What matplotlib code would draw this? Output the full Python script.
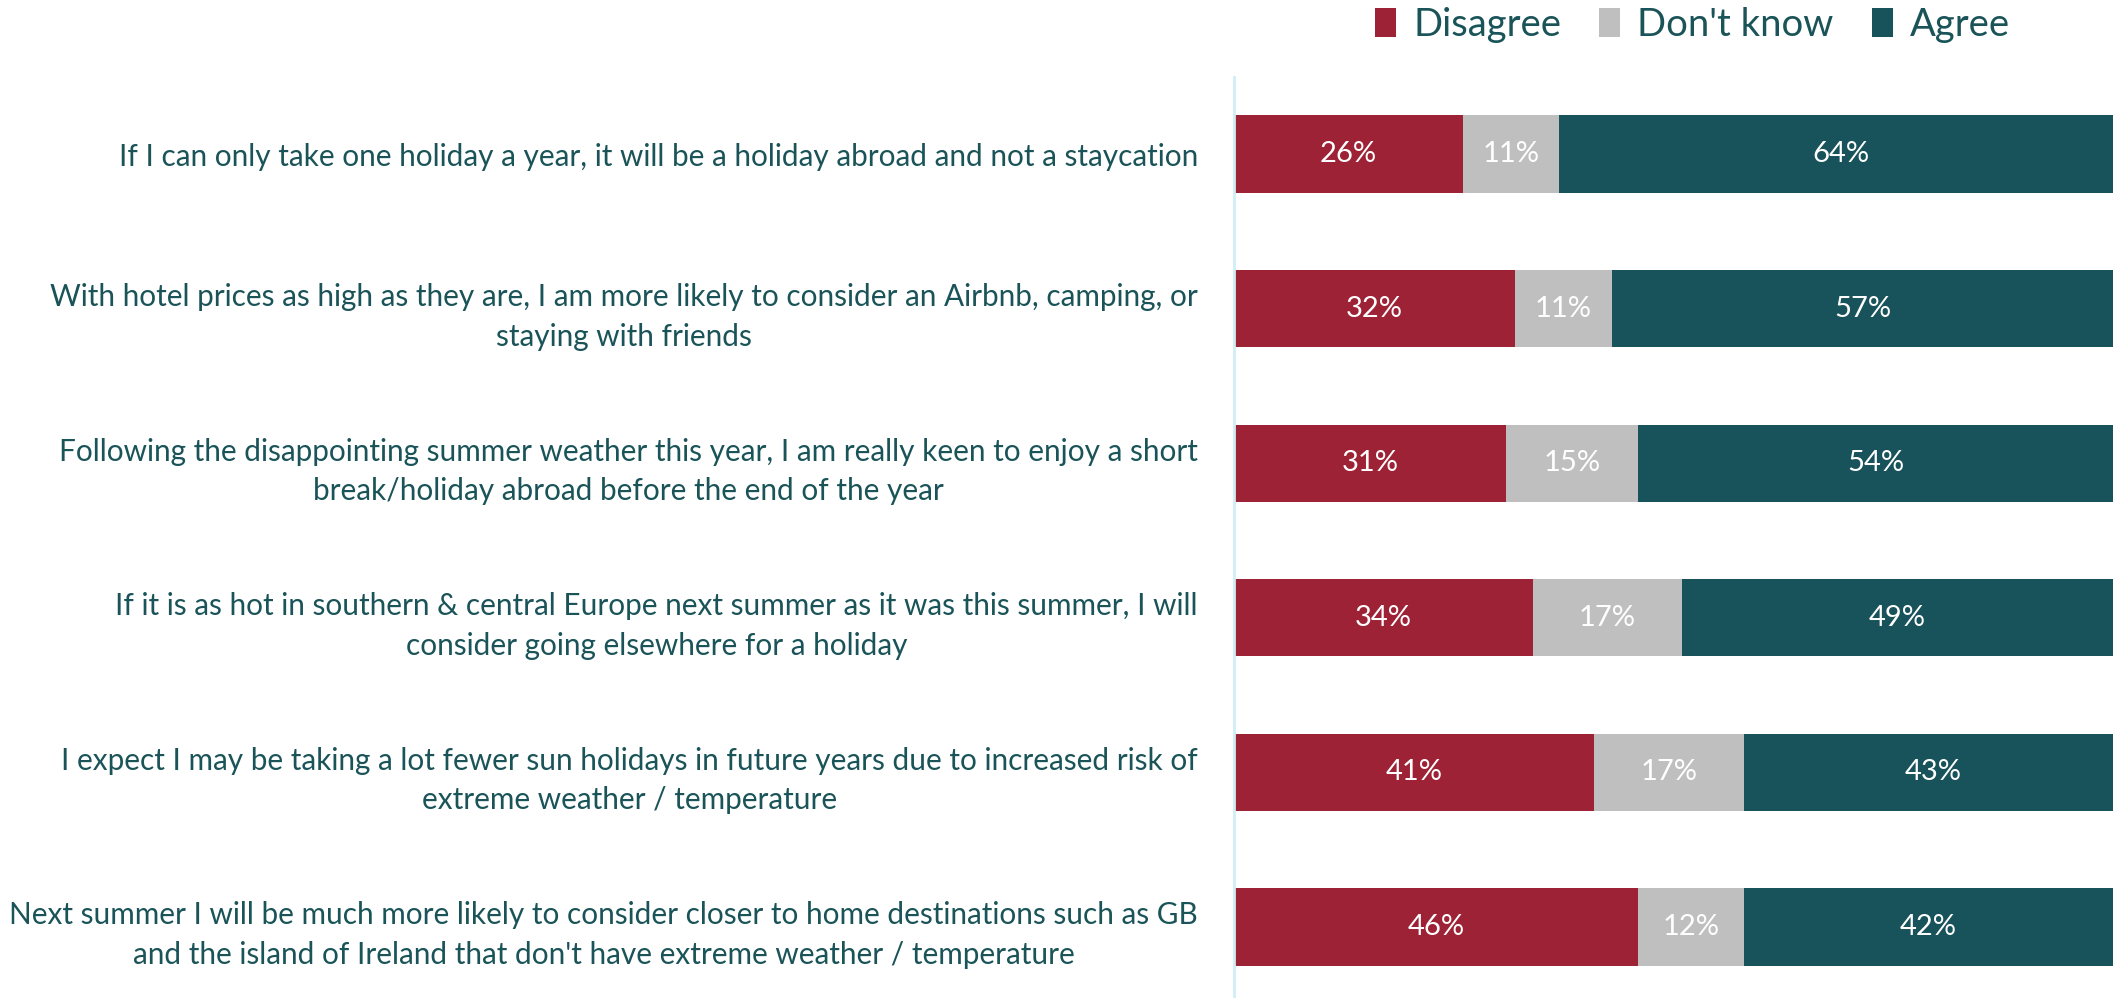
import matplotlib
matplotlib.use("Agg")
from matplotlib import pyplot as plt
from matplotlib.patches import Patch

statements = [
    "If I can only take one holiday a year, it will be a holiday abroad and not a staycation",
    "With hotel prices as high as they are, I am more likely to consider an Airbnb, camping, or\nstaying with friends",
    "Following the disappointing summer weather this year, I am really keen to enjoy a short\nbreak/holiday abroad before the end of the year",
    "If it is as hot in southern & central Europe next summer as it was this summer, I will\nconsider going elsewhere for a holiday",
    "I expect I may be taking a lot fewer sun holidays in future years due to increased risk of\nextreme weather / temperature",
    "Next summer I will be much more likely to consider closer to home destinations such as GB\nand the island of Ireland that don't have extreme weather / temperature",
]
disagree = [26, 32, 31, 34, 41, 46]
dont_know = [11, 11, 15, 17, 17, 12]
agree = [64, 57, 54, 49, 43, 42]

series = ["Disagree", "Don't know", "Agree"]
colors = ["#9E2236", "#BFBFBF", "#18525A"]
text_color = "#1A5458"

plt.rcParams["font.family"] = ["Lato", "DejaVu Sans"]

fig = plt.figure(figsize=(21.13, 9.98), dpi=100)
ax = fig.add_axes([0.584, 0.0, 0.416, 0.923])

ys = list(range(len(statements)))
left = [0] * len(statements)
for vals, col in zip([disagree, dont_know, agree], colors):
    ax.barh(ys, vals, left=left, height=0.5, color=col)
    for y, l, v in zip(ys, left, vals):
        ax.text(l + v / 2, y, f"{v}%", ha="center", va="center",
                color="white", fontsize=21)
    left = [a + b for a, b in zip(left, vals)]

ax.set_xlim(0, 100)
ax.set_ylim(5.46, -0.5)
ax.set_xticks([])
ax.set_yticks(ys)
ax.set_yticklabels(statements, fontsize=21.4, color=text_color,
                   multialignment="center", linespacing=1.5)
ax.tick_params(axis="y", length=0, pad=26)
for s in ["top", "right", "bottom"]:
    ax.spines[s].set_visible(False)
ax.spines["left"].set_color("#CFEFF5")
ax.spines["left"].set_linewidth(2)

handles = [Patch(facecolor=c, label=s) for c, s in zip(colors, series)]
fig.legend(handles=handles, loc="center", bbox_to_anchor=(0.801, 0.975),
           ncol=3, frameon=False, fontsize=27.5, handlelength=0.55,
           handleheight=0.8, handletextpad=0.45, columnspacing=1.0,
           labelcolor=text_color)

fig.savefig("out.png", dpi=100)
